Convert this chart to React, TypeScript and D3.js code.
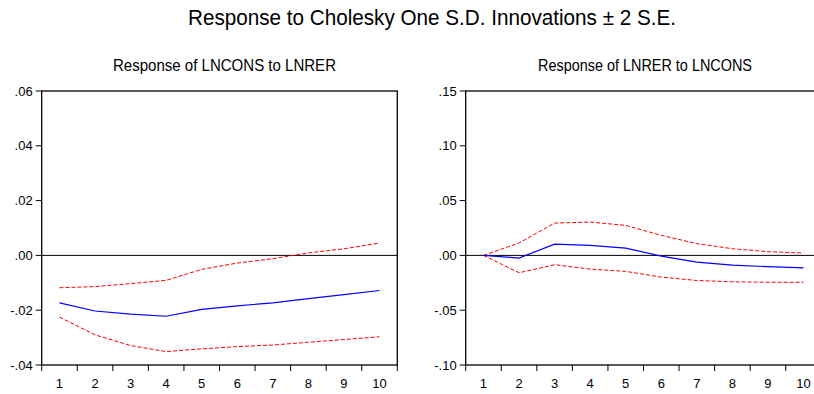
import * as d3 from 'd3';
import React from 'react';

const periods = [1, 2, 3, 4, 5, 6, 7, 8, 9, 10];

// Response of LNCONS to LNRER
const consResp = [-0.0173, -0.0203, -0.0214, -0.0222, -0.0197, -0.0184, -0.0173, -0.0158, -0.0143, -0.0128];
const consUpper = [-0.0118, -0.0114, -0.0103, -0.0091, -0.0051, -0.0028, -0.0012, 0.0009, 0.0024, 0.0045];
const consLower = [-0.0225, -0.029, -0.0329, -0.0351, -0.0341, -0.0333, -0.0327, -0.0317, -0.0307, -0.0297];
const consTicks = [0.06, 0.04, 0.02, 0.0, -0.02, -0.04];

// Response of LNRER to LNCONS
const rerResp = [0, -0.0024, 0.0103, 0.0091, 0.0067, -0.0006, -0.0061, -0.0088, -0.0103, -0.0113];
const rerUpper = [0, 0.0113, 0.0295, 0.0304, 0.0274, 0.0183, 0.0107, 0.0061, 0.0034, 0.0021];
const rerLower = [0, -0.0158, -0.0085, -0.0125, -0.0146, -0.0198, -0.0229, -0.0241, -0.0245, -0.0245];
const rerTicks = [0.15, 0.1, 0.05, 0.0, -0.05, -0.1];

const FONT = '"Liberation Sans Narrow", "Arial Narrow", "Liberation Sans", Arial, sans-serif';

const fmt = (v: number) => {
  const s = Math.abs(v).toFixed(2).replace(/^0/, '');
  return v < 0 ? '-' + s : s;
};

type PanelProps = {
  left: number;
  right: number;
  title: string;
  titleX: number;
  titleW: number;
  domain: [number, number];
  ticks: number[];
  resp: number[];
  upper: number[];
  lower: number[];
};

const Panel = ({ left, right, title, titleX, titleW, domain, ticks, resp, upper, lower }: PanelProps) => {
  const top = 91, bottom = 365;
  const x = d3.scaleBand<number>().domain(periods).range([left, right]).padding(0);
  const y = d3.scaleLinear().domain(domain).range([bottom, top]);
  const cx = (i: number) => (x(periods[i]) as number) + x.bandwidth() / 2;
  const line = d3.line<number>().x((_, i) => cx(i)).y(d => y(d));
  const bounds = x.range();

  return (
    <g>
      <text x={titleX} y={71} textAnchor="middle" fontSize={17} fontFamily={FONT} fill="#000"
        textLength={titleW} lengthAdjust="spacingAndGlyphs">{title}</text>
      <rect x={left} y={top} width={right - left} height={bottom - top} fill="none" stroke="#000" strokeWidth={1.3} />
      <line x1={left} x2={right} y1={y(0)} y2={y(0)} stroke="#000" strokeWidth={1} />
      {ticks.map(t => (
        <g key={t}>
          <line x1={left - 6} x2={left} y1={y(t)} y2={y(t)} stroke="#000" strokeWidth={1} />
          <text x={left - 9} y={y(t)} dy="0.35em" textAnchor="end" fontSize={13} fontFamily={FONT} fill="#000">{fmt(t)}</text>
        </g>
      ))}
      {periods.map((p, i) => (
        <g key={p}>
          <line x1={x(p) as number} x2={x(p) as number} y1={bottom} y2={bottom + 6} stroke="#000" strokeWidth={1} />
          <text x={cx(i)} y={bottom + 18} dy="0.35em" textAnchor="middle" fontSize={13} fontFamily={FONT} fill="#000">{p}</text>
        </g>
      ))}
      <line x1={bounds[1]} x2={bounds[1]} y1={bottom} y2={bottom + 6} stroke="#000" strokeWidth={1} />
      <path d={line(upper) || ''} fill="none" stroke="#FF0000" strokeWidth={1} strokeDasharray="4,2" />
      <path d={line(lower) || ''} fill="none" stroke="#FF0000" strokeWidth={1} strokeDasharray="4,2" />
      <path d={line(resp) || ''} fill="none" stroke="#0000FF" strokeWidth={1.2} />
    </g>
  );
};

const App = () => {
  return (
    <div style={{ position: 'fixed', left: 0, top: 0, width: 814, height: 394, overflow: 'hidden', background: '#fff' }}>
      <svg width={814} height={394} style={{ display: 'block' }}>
        <rect width={814} height={394} fill="#fff" />
        <text x={432} y={25} textAnchor="middle" fontSize={22} fontFamily={FONT} fill="#000"
          textLength={488} lengthAdjust="spacingAndGlyphs">
          Response to Cholesky One S.D. Innovations ± 2 S.E.
        </text>
        <Panel left={41.7} right={397.3} title="Response of LNCONS to LNRER" titleX={224.5} titleW={223}
          domain={[-0.04, 0.06]} ticks={consTicks} resp={consResp} upper={consUpper} lower={consLower} />
        <Panel left={465.7} right={821.3} title="Response of LNRER to LNCONS" titleX={645} titleW={214}
          domain={[-0.1, 0.15]} ticks={rerTicks} resp={rerResp} upper={rerUpper} lower={rerLower} />
      </svg>
    </div>
  );
};

export default App;
